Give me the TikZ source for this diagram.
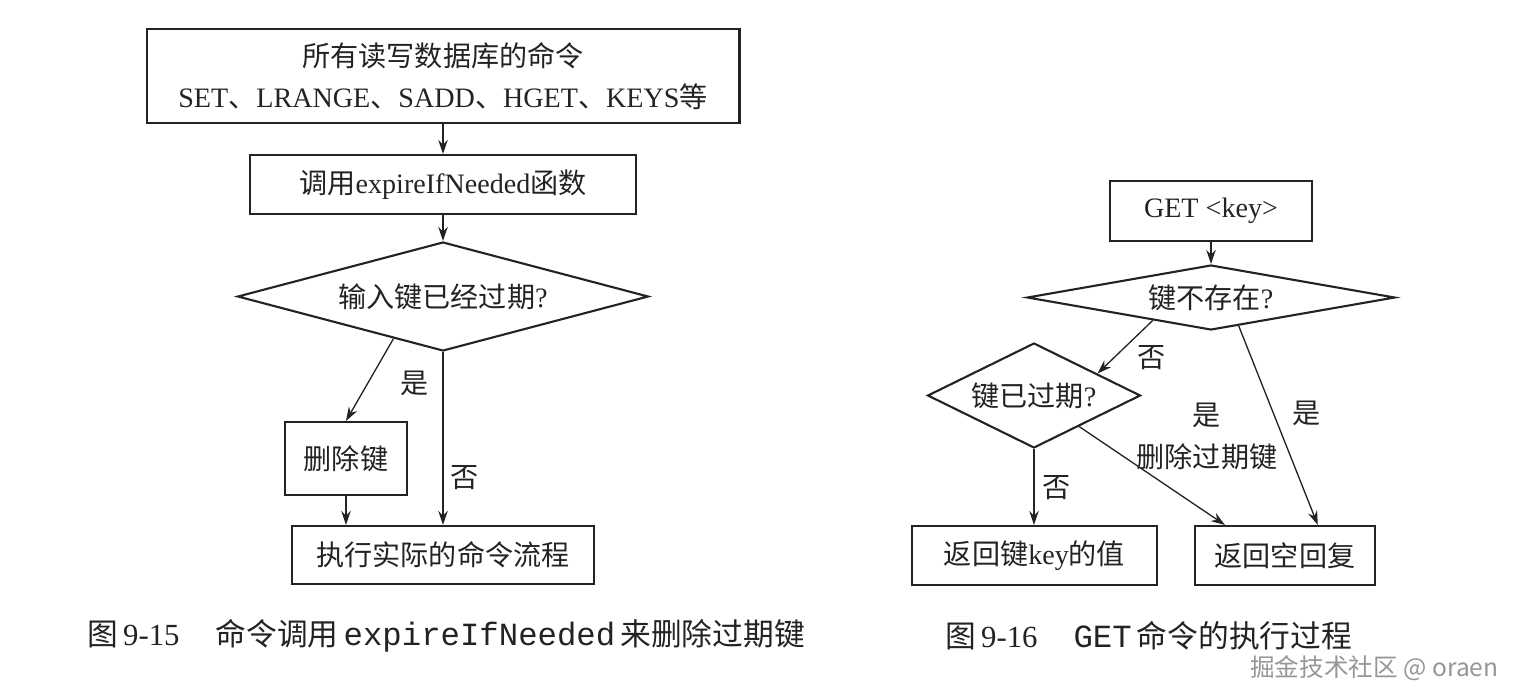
\documentclass[tikz,border=0pt]{standalone}
\usepackage{fontspec}
\setmainfont{Liberation Serif}
\setmonofont{Liberation Mono}
\newfontfamily\cjk{Noto Sans CJK SC}
\newcommand\zh[1]{{\cjk #1}}
\usetikzlibrary{arrows.meta,positioning,shapes.geometric,calc}
\definecolor{inkDark}{RGB}{35, 35, 35}
\definecolor{markGray}{RGB}{150, 150, 150}

\begin{document}
\begin{tikzpicture}[
  x=0.02cm, y=-0.02cm,
  flowbox/.style={
    draw=inkDark,
    line width=1.2pt,
    inner sep=0pt,
    align=center,
    text=inkDark,
    font=\fontsize{16}{23}\selectfont
  },
  decision/.style={
    flowbox,
    diamond
  },
  branchlabel/.style={text=inkDark,inner sep=0pt,font=\fontsize{16}{19}\selectfont},
  caption/.style={anchor=west,inner sep=0pt,text=inkDark,font=\fontsize{17.5}{20}\selectfont},
  flowarrow/.style={-{Stealth[length=2.8mm,width=1.9mm]},line width=0.75pt,inkDark}
]
  \useasboundingbox (0,0) rectangle (1522,690);

  % left: expireIfNeeded
  \node[flowbox,minimum width=11.86cm,minimum height=1.88cm] (allcmd) at (443,76)
    {\zh{所有读写数据库的命令}\\SET\zh{、}LRANGE\zh{、}SADD\zh{、}HGET\zh{、}KEYS\zh{等}};
  \node[flowbox,minimum width=7.72cm,minimum height=1.18cm] (callfn) at (443,184.5)
    {\zh{调用}expireIfNeeded\zh{函数}};
  \node[decision,aspect=3.77,minimum width=8.22cm,minimum height=2.18cm] (expired) at (443,296.5)
    {\zh{输入键已经过期}?};
  \node[flowbox,minimum width=2.44cm,minimum height=1.46cm] (delkey) at (346,458.5)
    {\zh{删除键}};
  \node[flowbox,minimum width=6.04cm,minimum height=1.16cm] (exec) at (443,555)
    {\zh{执行实际的命令流程}};

  \draw[flowarrow] (allcmd) -- (callfn);
  \draw[flowarrow] (callfn) -- (expired);
  \draw[flowarrow] ($(expired.south)!0.24!(expired.west)$) -- (delkey.north);
  \draw[flowarrow] (expired.south) -- (exec.north);
  \draw[flowarrow] (delkey.south) -- (delkey.south |- exec.north);
  \node[branchlabel] (yesdel) at (415,383) {\zh{是}};
  \node[branchlabel] (nokeep) at (465,478) {\zh{否}};

  % right: GET
  \node[flowbox,minimum width=4.04cm,minimum height=1.2cm] (getkey) at (1211,211)
    {GET <key>};
  \node[decision,aspect=5.66,minimum width=7.36cm,minimum height=1.3cm] (missing) at (1211,297.5)
    {\zh{键不存在}?};
  \node[decision,aspect=2.03,minimum width=4.26cm,minimum height=2.1cm] (stale) at (1034,395.5)
    {\zh{键已过期}?};
  \node[flowbox,minimum width=4.9cm,minimum height=1.18cm] (value) at (1034.5,555.5)
    {\zh{返回键}key\zh{的值}};
  \node[flowbox,minimum width=3.6cm,minimum height=1.18cm] (nil) at (1285,555.5)
    {\zh{返回空回复}};

  \draw[flowarrow] (getkey) -- (missing);
  \draw[flowarrow] ($(missing.south)!0.315!(missing.west)$) -- ($(stale.north)!0.59!(stale.east)$);
  \draw[flowarrow] ($(missing.south)!0.15!(missing.east)$) -- ($(nil.north west)!0.68!(nil.north east)$);
  \draw[flowarrow] ($(stale.south)!0.42!(stale.east)$) -- ($(nil.north west)!0.17!(nil.north east)$);
  \draw[flowarrow] (stale.south) -- (stale.south |- value.north);
  \node[branchlabel] (nomiss) at (1152,358) {\zh{否}};
  \node[branchlabel] (yesstale) at (1207,415) {\zh{是}};
  \node[branchlabel] (dropkey) at (1207,457) {\zh{删除过期键}};
  \node[branchlabel] (yesmiss) at (1307,413) {\zh{是}};
  \node[branchlabel] (nostale) at (1057,488) {\zh{否}};

  % captions
  \node[caption] (capleft) at (87,636)
    {\zh{图}\,9-15\hspace{0.72cm}\zh{命令调用}\,{\fontsize{18.4}{20}\selectfont\ttfamily expireIfNeeded}\,\zh{来删除过期键}};
  \node[caption] (capright) at (945,636)
    {\zh{图}\,9-16\hspace{0.72cm}{\fontsize{18.4}{20}\selectfont\ttfamily GET}\,\zh{命令的执行过程}};
  \node[anchor=west,inner sep=0pt,text=markGray,font=\cjk\fontsize{14}{17}\selectfont] (mark) at (1250,668)
    {掘金技术社区 @ oraen};
\end{tikzpicture}
\end{document}
